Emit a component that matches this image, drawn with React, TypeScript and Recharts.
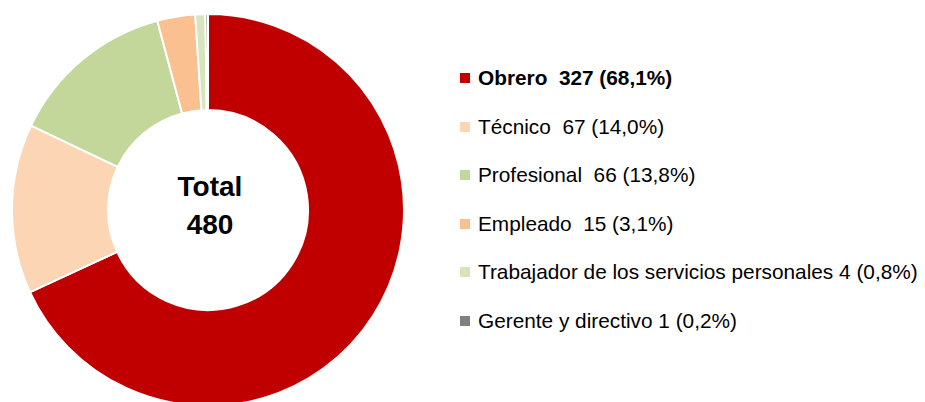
import { PieChart, Pie, Cell } from 'recharts';

const categories = [
  'Obrero',
  'Técnico',
  'Profesional',
  'Empleado',
  'Trabajador de los servicios personales',
  'Gerente y directivo',
];
const counts = [327, 67, 66, 15, 4, 1];
const shares = ['68,1%', '14,0%', '13,8%', '3,1%', '0,8%', '0,2%'];
// the source labels have a double space before the count on the first four rows
const gaps = ['  ', '  ', '  ', '  ', ' ', ' '];
const COLORS = ['#c00000', '#fcd5b5', '#c4d79b', '#fac090', '#d8e4bc', '#808080'];
const totalLabel = ['Total', '480'];

const chartData = categories.map((name, i) => ({
  name,
  value: counts[i],
  share: shares[i],
}));

const FONT = '"Liberation Sans", Arial, sans-serif';

// legend drawn as plain html next to the pie so it doesn't eat chart space
function LegendList() {
  return (
    <div
      style={{
        position: 'absolute',
        left: 460,
        top: 54,
        fontFamily: FONT,
        fontSize: 20.8,
        color: '#000',
      }}
    >
      {chartData.map((d, i) => (
        <div
          key={d.name}
          style={{
            display: 'flex',
            alignItems: 'center',
            height: 48.5,
            fontWeight: i === 0 ? 'bold' : 'normal',
            whiteSpace: 'pre',
          }}
        >
          <span
            style={{
              display: 'inline-block',
              width: 10,
              height: 10,
              background: COLORS[i],
              marginRight: 8,
            }}
          />
          <span>{`${d.name}${gaps[i]}${d.value} (${d.share})`}</span>
        </div>
      ))}
    </div>
  );
}

export default function App() {
  return (
    <div style={{ position: 'absolute', left: 0, top: 0, width: 925, height: 402, background: '#fff' }}>
      <PieChart width={925} height={402} margin={{ top: 0, right: 0, bottom: 0, left: 0 }}>
        <Pie
          data={chartData}
          dataKey="value"
          nameKey="name"
          cx={208}
          cy={210}
          innerRadius={100}
          outerRadius={196}
          startAngle={90}
          endAngle={-270}
          stroke="#fff"
          strokeWidth={2}
          isAnimationActive={false}
        >
          {chartData.map((d, i) => (
            <Cell key={d.name} fill={COLORS[i]} />
          ))}
        </Pie>
        <text
          x={210}
          y={196}
          textAnchor="middle"
          fontFamily={FONT}
          fontWeight="bold"
          fontSize={28}
          fill="#000"
        >
          {totalLabel[0]}
        </text>
        <text
          x={210}
          y={234}
          textAnchor="middle"
          fontFamily={FONT}
          fontWeight="bold"
          fontSize={28}
          fill="#000"
        >
          {totalLabel[1]}
        </text>
      </PieChart>
      <LegendList />
    </div>
  );
}
